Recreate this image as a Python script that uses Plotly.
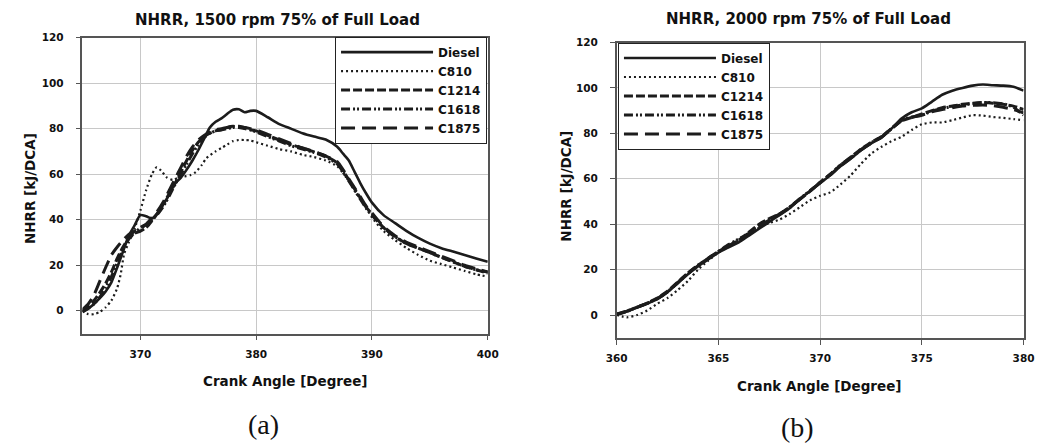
import plotly.graph_objects as go

# ---------------- data: panel (a) 1500 rpm ----------------
a_x_diesel = [365, 365.5, 366, 366.5, 367, 367.5, 368, 368.5, 369, 369.5, 370, 370.5, 371, 371.5, 372, 372.5,
              373, 373.5, 374, 374.5, 375, 375.5, 376, 376.5, 377, 377.5, 378, 378.5, 379, 379.5, 380, 381,
              382, 383, 384, 385, 386, 387, 387.5, 388, 388.5, 389, 389.5, 390, 391, 392, 393, 394, 395, 396,
              397, 398, 399, 400]
a_diesel = [-0.5, 1, 3, 5.5, 8.5, 12.5, 19, 26, 33, 37.5, 42, 41.5, 40.5, 43, 47, 51,
            56, 58.5, 62, 66, 70.5, 75.5, 80.5, 83, 84.5, 86.5, 88.3, 88.5, 87.2, 87.8, 87.8, 85,
            82, 80, 78, 76.5, 75.2, 72, 69, 66, 61, 56, 51.5, 47.5, 42, 38.5, 35, 32, 29.5, 27.5,
            26, 24.5, 23, 21.5]

a_x_c810 = [365, 365.5, 366, 366.5, 367, 367.5, 368, 368.3, 368.6, 369, 369.5, 370, 370.5, 371, 371.4, 371.8,
            372.3, 372.8, 373.3, 373.8, 374.3, 374.8, 375.3, 375.7, 376.5, 377, 377.5, 378, 378.5, 379, 379.5,
            380, 381, 382, 383, 384, 385, 386, 387, 387.5, 388, 388.5, 389, 389.5, 390, 391, 392, 393, 394,
            395, 396, 397, 398, 399, 400]
a_c810 = [0, -1.5, -1.5, -0.5, 1.5, 4.5, 10, 16, 25, 30, 36, 44, 53, 60, 63, 61.5,
          58.5, 57.5, 58.5, 59, 59.5, 61, 64, 67, 70, 71.5, 73, 74.5, 75, 75, 74.8,
          74, 72.5, 71, 70, 68.5, 67.5, 66, 63.5, 60.5, 57, 53, 49, 45.5, 41, 35, 31, 27.5, 24.5,
          22, 20.5, 19, 17.5, 16, 15]

a_x_c = [365, 365.5, 366, 366.5, 367, 367.5, 368, 368.5, 369, 369.5, 370, 370.5, 371, 371.5, 372, 372.5,
         373, 373.5, 374, 374.5, 375, 375.5, 376, 376.5, 377, 377.5, 378, 378.5, 379, 379.5, 380, 381,
         382, 383, 384, 385, 386, 387, 387.5, 388, 388.5, 389, 389.5, 390, 391, 392, 393, 394, 395, 396,
         397, 398, 399, 400]
a_c1214 = [0, 2, 4.5, 8, 12, 17, 23, 28, 32, 34, 35, 36.5, 39.5, 43, 47, 51.5,
           56, 61, 66, 70.5, 74, 76.5, 78, 79, 79.5, 80.5, 81, 80.8, 80.5, 79.5, 79, 77,
           75, 73, 71.5, 69.8, 68, 65, 61.5, 57.5, 53.5, 49.5, 45.5, 42.5, 36.5, 32.5, 29.5, 27.5, 25.5, 23.5,
           21.5, 19.5, 18, 16.5]
a_c1618 = [-0.5, 1, 3, 6, 10, 15, 21, 27, 31.5, 34, 36.5, 38, 40, 42.5, 46, 50.5,
           55.5, 60, 64.5, 69, 73, 76, 78, 79, 79.5, 80, 80.5, 80.5, 80, 79.5, 78.5, 76.5,
           74.5, 72.5, 71, 69.5, 67.5, 64.5, 61, 57, 53, 49, 45, 42, 36.5, 32.5, 29.5, 27.5, 25.5, 23.5,
           21.5, 19.5, 18, 17]
a_c1875 = [0.5, 3, 7, 13, 19, 24.5, 28, 31, 33.5, 35, 36, 38, 41, 44, 48, 53,
           58, 63, 68, 72, 75, 77, 78.5, 79.5, 80, 80.5, 81, 81, 80.5, 80, 79.5, 77.5,
           75.5, 73.5, 71.5, 70, 68, 65.5, 62, 58, 54, 50, 46, 43, 37, 33, 30, 28, 26, 24,
           22, 20, 18.5, 17]

# ---------------- data: panel (b) 2000 rpm ----------------
b_x = [360, 360.5, 361, 361.5, 362, 362.5, 363, 363.5, 364, 364.5, 365, 365.5, 366, 366.5, 367, 367.5,
       368, 368.5, 369, 369.5, 370, 370.5, 371, 371.5, 372, 372.5, 373, 373.5, 374, 374.5, 375, 375.5,
       376, 376.5, 377, 377.5, 378, 378.5, 379, 379.5, 380]
b_diesel = [0.3, 1.5, 3.3, 5, 7, 10, 14, 18, 21.5, 24.5, 27.5, 29.8, 32, 35, 38, 41,
            44, 47, 51, 54.5, 58, 61.5, 65.5, 68.8, 72.5, 75.5, 78, 82, 86.5, 89.3, 91, 94,
            97, 98.8, 100, 101, 101.5, 101.2, 101, 100.5, 98.8]
b_c810 = [0, -1, 0, 2, 5, 7.5, 11, 15, 20, 24, 27.5, 30.5, 33, 36, 38.5, 40.5,
          42, 44.5, 47.5, 50.5, 52.5, 54, 57.5, 61.5, 66.5, 71, 74, 76.5, 78.5, 81.5, 84, 84.8,
          84.8, 85.8, 87, 88, 87.8, 87.2, 86.8, 86.3, 85.8]
b_c1214 = [0.5, 1.8, 3.5, 5.3, 7.5, 10.5, 14.5, 18.5, 22, 25, 28, 30.5, 33, 36.5, 40, 42.5,
           44.5, 47.5, 51, 54.5, 58.5, 62, 66, 69.5, 73, 76, 78.5, 82, 85.5, 87, 88.5, 90,
           91.3, 92, 92.8, 93.3, 93.6, 93.3, 92.8, 92, 90.5]
b_c1618 = [0.2, 1.6, 3.4, 5.2, 7.3, 10.3, 14.3, 18.3, 21.8, 25, 28, 31, 33.5, 36, 39.5, 42,
           44.5, 47.5, 51.2, 54.8, 58.3, 62, 66, 69.3, 72.8, 75.8, 78.3, 82, 85.8, 87.2, 88, 89.8,
           91, 91.8, 92.5, 93, 93.5, 93.5, 93, 91.5, 88]
b_c1875 = [0.4, 1.7, 3.5, 5.1, 7.2, 10.2, 14.2, 18.2, 21.7, 24.8, 27.8, 30.3, 32.8, 35.8, 39, 41.8,
           44.3, 47.3, 51, 54.6, 58.2, 61.8, 65.8, 69, 72.6, 75.6, 78.2, 82, 85.6, 87, 88, 89.5,
           90.5, 91.3, 92, 92.3, 92.5, 92.2, 91.5, 90.5, 89]

series_names = ["Diesel", "C810", "C1214", "C1618", "C1875"]
a_x_ticks = [370, 380, 390, 400]
b_x_ticks = [360, 365, 370, 375, 380]
y_ticks = [0, 20, 40, 60, 80, 100, 120]

# ---------------- styling ----------------
INK = "#1c1c1c"
FONT = "DejaVu Sans"
styles = {
    "Diesel": dict(width=2.6, dash="solid"),
    "C810": dict(width=2.2, dash="2px,3px"),
    "C1214": dict(width=3, dash="9px,3px"),
    "C1618": dict(width=3, dash="9px,3px,2px,2px,2px,3px"),
    "C1875": dict(width=3, dash="14px,7px"),
}

fig = go.Figure()

a_data = [(a_x_diesel, a_diesel), (a_x_c810, a_c810), (a_x_c, a_c1214), (a_x_c, a_c1618), (a_x_c, a_c1875)]
b_data = [(b_x, b_diesel), (b_x, b_c810), (b_x, b_c1214), (b_x, b_c1618), (b_x, b_c1875)]

for name, (xs, ys) in zip(series_names, a_data):
    fig.add_trace(go.Scatter(x=xs, y=ys, mode="lines", name=name, xaxis="x", yaxis="y",
                             legend="legend", line=dict(color=INK, shape="spline", smoothing=0.6, **styles[name])))
for name, (xs, ys) in zip(series_names, b_data):
    fig.add_trace(go.Scatter(x=xs, y=ys, mode="lines", name=name, xaxis="x2", yaxis="y2",
                             legend="legend2", line=dict(color=INK, shape="spline", smoothing=0.6, **styles[name])))

W, H = 1046, 445

def px(v):
    return v / W

def py(v):
    return 1 - v / H

tickfont = dict(family=FONT, size=10.5, color="#111", weight="bold")
common_x = dict(showgrid=True, gridcolor="#c8c8c8", gridwidth=1, showline=True, linecolor="#555",
                linewidth=1.5, mirror=True, ticks="outside", ticklen=5, tickcolor="#555",
                tickfont=tickfont, zeroline=False, ticklabelstandoff=5)
common_y = dict(showgrid=True, gridcolor="#c8c8c8", gridwidth=1, showline=True, linecolor="#555",
                linewidth=1.5, mirror=True, ticks="outside", ticklen=5, tickcolor="#555",
                tickfont=tickfont, zeroline=False, range=[-10, 120], tickvals=y_ticks,
                ticklabelstandoff=10)

legend_common = dict(bgcolor="white", bordercolor="#222", borderwidth=1,
                     font=dict(family=FONT, size=12, color="#111", weight="bold"),
                     itemwidth=92, tracegroupgap=0, xanchor="left", yanchor="top",
                     itemclick=False, itemdoubleclick=False)

fig.update_layout(
    width=W, height=H,
    margin=dict(l=0, r=0, t=0, b=0),
    paper_bgcolor="white", plot_bgcolor="white",
    showlegend=True,
    xaxis=dict(domain=[px(73), px(487)], range=[365, 400], tickvals=a_x_ticks, anchor="y", **common_x),
    yaxis=dict(domain=[py(332), py(32)], anchor="x", **common_y),
    xaxis2=dict(domain=[px(618.7), px(1034.3)], range=[360, 380], tickvals=b_x_ticks, anchor="y2", **common_x),
    yaxis2=dict(domain=[py(336.3), py(37)], anchor="x2", **common_y),
    legend=dict(x=px(331), y=py(31), **legend_common),
    legend2=dict(x=px(620), y=py(37), **legend_common),
)

title_font = dict(family=FONT, size=15, color="#111", weight="bold")
axis_font = dict(family=FONT, size=13.5, color="#111", weight="bold")
label_font = dict(family="Liberation Serif", size=28, color="#111")

ann = [
    dict(text="NHRR, 1500 rpm 75% of Full Load", x=px(272), y=py(14), font=title_font),
    dict(text="NHRR, 2000 rpm 75% of Full Load", x=px(815), y=py(13), font=title_font),
    dict(text="Crank Angle [Degree]", x=px(280), y=py(380), font=axis_font),
    dict(text="Crank Angle [Degree]", x=px(826), y=py(385), font=axis_font),
    dict(text="NHRR [kJ/DCA]", x=px(19), y=py(185), font=axis_font, textangle=-90),
    dict(text="NHRR [kJ/DCA]", x=px(566), y=py(183), font=axis_font, textangle=-90),
    dict(text="(a)", x=px(258), y=py(424), font=label_font),
    dict(text="(b)", x=px(803), y=py(427), font=label_font),
]
for a in ann:
    a.update(xref="paper", yref="paper", showarrow=False, xanchor="center", yanchor="middle")
fig.update_layout(annotations=ann)

fig.write_html("out.html")
